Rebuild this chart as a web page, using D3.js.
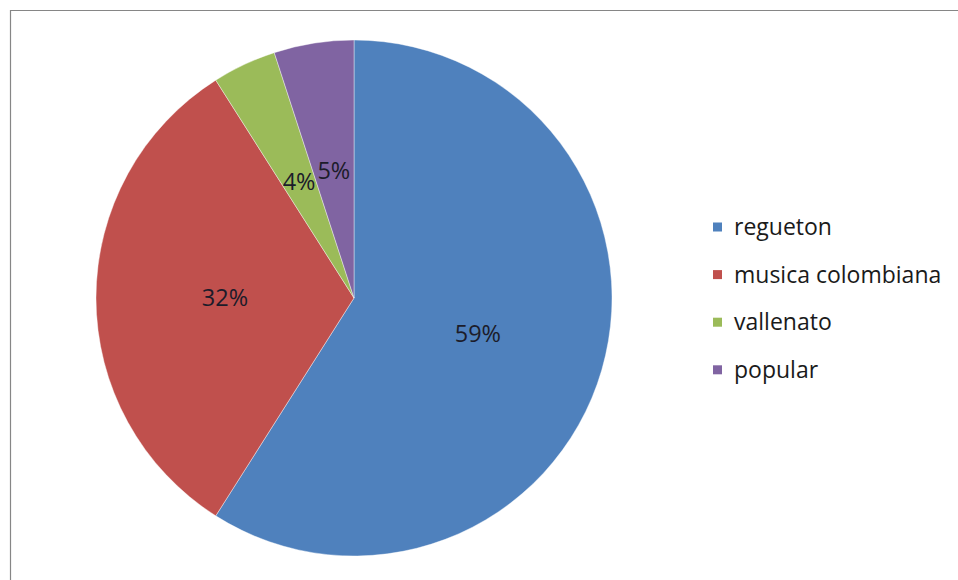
<!DOCTYPE html>
<html>
<head>
<meta charset="utf-8">
<script src="https://cdn.jsdelivr.net/npm/d3@7"></script>
<style>
  html, body { margin: 0; padding: 0; background: #fff; }
  svg { display: block; }
</style>
</head>
<body>
<svg id="chart" width="958" height="580"></svg>
<script>
const categories = ["regueton", "musica colombiana", "vallenato", "popular"];
const values = [59, 32, 4, 5];
const colors = ["#4F81BD", "#C0504D", "#9BBB59", "#8064A2"];

const svg = d3.select("#chart");
const W = 958, H = 580;

// chart area border
svg.append("path")
  .attr("d", `M10.5,${H} L10.5,10.5 L${W},10.5`)
  .attr("fill", "none")
  .attr("stroke", "#868686")
  .attr("stroke-width", 1.2);

const cx = 354, cy = 298, r = 258;
const total = d3.sum(values);
const data = categories.map((c, i) => ({ cat: c, value: values[i], color: colors[i] }));

const pie = d3.pie().value(d => d.value).sort(null);
const arc = d3.arc().innerRadius(0).outerRadius(r);
const labelArc = d3.arc().innerRadius(r * 0.5).outerRadius(r * 0.5);

const g = svg.append("g").attr("transform", `translate(${cx},${cy})`);
const arcs = pie(data);

g.selectAll("path.slice")
  .data(arcs)
  .join("path")
  .attr("class", "slice")
  .attr("d", arc)
  .attr("fill", d => d.data.color)
  .attr("stroke", "#ffffff")
  .attr("stroke-opacity", 0.5)
  .attr("stroke-width", 0.8);

g.selectAll("text.pct")
  .data(arcs)
  .join("text")
  .attr("class", "pct")
  .attr("transform", d => `translate(${labelArc.centroid(d)})`)
  .attr("text-anchor", "middle")
  .attr("dy", "0.36em")
  .attr("font-family", "'Open Sans', sans-serif")
  .attr("font-size", 23.5)
  .attr("fill", "#1c1c2a")
  .text(d => Math.round(d.data.value / total * 100) + "%");

// legend
const legend = svg.append("g").attr("transform", "translate(713,227)");
const rowH = 47.6;
const items = legend.selectAll("g.item")
  .data(data)
  .join("g")
  .attr("class", "item")
  .attr("transform", (d, i) => `translate(0,${i * rowH})`);

items.append("rect")
  .attr("x", 0).attr("y", -4.5)
  .attr("width", 9).attr("height", 9)
  .attr("fill", d => d.color);

items.append("text")
  .attr("x", 21)
  .attr("dy", "0.36em")
  .attr("font-family", "'Open Sans', sans-serif")
  .attr("font-size", 23)
  .attr("fill", "#1a1a1a")
  .text(d => d.cat);
</script>
</body>
</html>
